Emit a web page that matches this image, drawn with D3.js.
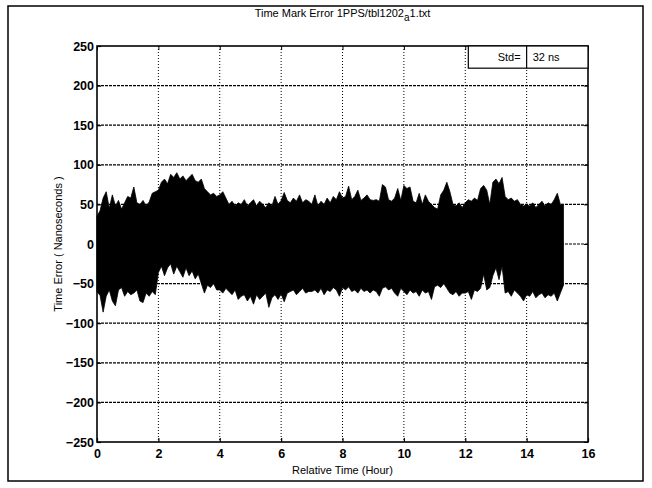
<!DOCTYPE html>
<html>
<head>
<meta charset="utf-8">
<script src="https://cdn.jsdelivr.net/npm/d3@7"></script>
<style>
  body { margin: 0; background: #fff; }
  svg text { font-family: "Liberation Sans", Arial, sans-serif; fill: #000; }
</style>
</head>
<body>
<div id="vis"></div>
<script>
const w = 652;
const h = 488;

// sample spacing of the envelope (hours)
const step = 0.1;

// upper envelope of the error trace, one value per 0.1 hour (ns)
const topEnv = [
    35, 42, 58, 66, 45, 62, 48, 55, 44, 52,
    60, 58, 72, 52, 50, 55, 48, 53, 64, 66,
    68, 78, 82, 76, 88, 84, 90, 82, 86, 80,
    84, 88, 80, 78, 82, 70, 66, 62, 64, 60,
    62, 66, 58, 50, 54, 48, 52, 50, 56, 48,
    52, 56, 48, 54, 50, 46, 52, 48, 60, 50,
    55, 65, 55, 52, 58, 54, 62, 52, 56, 54,
    50, 62, 48, 54, 50, 58, 52, 60, 56, 66,
    58, 60, 73, 56, 60, 68, 55, 58, 62, 56,
    55, 56, 54, 75, 72, 56, 54, 58, 70, 55,
    74, 70, 72, 54, 52, 64, 50, 62, 54, 50,
    46, 44, 62, 68, 78, 66, 50, 48, 52, 46,
    52, 56, 54, 58, 55, 70, 74, 68, 50, 78,
    82, 76, 84, 60, 56, 58, 54, 56, 50, 48,
    50, 48, 52, 46, 50, 54, 48, 52, 50, 56,
    64, 50, 50
];

// lower envelope, same sampling (ns)
const botEnv = [
    -60, -65, -86, -66, -58, -72, -78, -58, -55, -66,
    -60, -64, -62, -58, -72, -74, -62, -66, -60, -64,
    -36, -28, -40, -30, -25, -38, -28, -35, -42, -30,
    -40, -34, -44, -38, -50, -62, -52, -55, -50, -58,
    -58, -62, -56, -60, -64, -58, -70, -66, -64, -72,
    -66, -76, -64, -70, -66, -62, -80, -68, -64, -70,
    -63, -73, -62, -60, -58, -64, -60, -56, -62, -60,
    -60, -58, -62, -56, -64, -58, -60, -55, -58, -66,
    -55, -58, -54, -60, -58, -62, -56, -60, -58, -62,
    -58, -60, -66, -56, -54, -58, -56, -62, -66, -56,
    -60, -64, -58, -62, -60, -66, -58, -62, -60, -70,
    -54, -52, -55, -50, -56, -62, -64, -60, -66, -62,
    -62, -60, -70, -58, -60, -56, -38, -58, -55, -40,
    -30, -45, -28, -62, -60, -66, -58, -62, -66, -72,
    -64, -66, -60, -68, -64, -62, -68, -64, -66, -62,
    -72, -62, -52
];

const xTicks = [0, 2, 4, 6, 8, 10, 12, 14, 16];
const yTicks = [-250, -200, -150, -100, -50, 0, 50, 100, 150, 200, 250];
const stdLabel = 'Std=';
const stdValue = '32 ns';

const margin = ({ top: 46, right: 64, bottom: 46, left: 97 });

const svg = d3.select('#vis')
    .append('svg')
    .attr('width', w)
    .attr('height', h)

let xScale = d3.scaleLinear()
    .domain([0, 16])
    .range([margin.left, w - margin.right]);

let yScale = d3.scaleLinear()
    .domain([-250, 250])
    .range([h - margin.bottom, margin.top]);

// outer figure frame
svg.append('rect')
    .attr('x', 8)
    .attr('y', 6)
    .attr('width', 635)
    .attr('height', 475)
    .attr('fill', 'none')
    .attr('stroke', '#000')
    .attr('stroke-width', 1.5)

// grid
svg.append('g')
    .selectAll('line')
    .data(xTicks.slice(1, -1))
    .join('line')
    .attr('x1', d => xScale(d))
    .attr('x2', d => xScale(d))
    .attr('y1', yScale(250))
    .attr('y2', yScale(-250))
    .attr('stroke', '#000')
    .attr('stroke-width', 1)
    .attr('stroke-dasharray', '1,2')

svg.append('g')
    .selectAll('line')
    .data(yTicks.slice(1, -1))
    .join('line')
    .attr('x1', xScale(0))
    .attr('x2', xScale(16))
    .attr('y1', d => yScale(d))
    .attr('y2', d => yScale(d))
    .attr('stroke', '#000')
    .attr('stroke-width', 1.2)
    .attr('stroke-dasharray', '3,1')

// the error trace, drawn as its min / max envelope
const samples = topEnv.map((t, i) => ({ t: i * step, hi: t, lo: botEnv[i] }));

let area = d3.area()
    .x(d => xScale(d.t))
    .y0(d => yScale(d.lo))
    .y1(d => yScale(d.hi))
    .curve(d3.curveLinear);

svg.append('path')
    .datum(samples)
    .attr('d', area)
    .attr('fill', '#000')
    .attr('stroke', '#000')
    .attr('stroke-width', 0.8)

// axes (ticks inside, like the original)
let xAxis = d3.axisBottom(xScale).tickValues(xTicks).tickSize(-4).tickPadding(7);
let yAxis = d3.axisLeft(yScale).tickValues(yTicks).tickSize(-4).tickPadding(3);

svg.append('g')
    .attr('transform', 'translate(0, ' + yScale(-250) + ')')
    .call(xAxis)
    .call(g => g.select('.domain').remove())
    .call(g => g.selectAll('.tick line').attr('stroke-width', 1.2))
    .selectAll('text')
    .attr('font-size', '12.5px')
    .attr('font-weight', 'bold')

svg.append('g')
    .attr('transform', 'translate(' + xScale(0) + ', 0)')
    .call(yAxis)
    .call(g => g.select('.domain').remove())
    .call(g => g.selectAll('.tick line').attr('stroke-width', 1.2))
    .selectAll('text')
    .attr('font-size', '12.5px')
    .attr('font-weight', 'bold')

svg.append('g')
    .attr('transform', 'translate(0, ' + yScale(250) + ')')
    .call(d3.axisTop(xScale).tickValues(xTicks).tickSize(-4).tickFormat(''))
    .call(g => g.select('.domain').remove())

svg.append('g')
    .attr('transform', 'translate(' + xScale(16) + ', 0)')
    .call(d3.axisRight(yScale).tickValues(yTicks).tickSize(-4).tickFormat(''))
    .call(g => g.select('.domain').remove())

// plot box
svg.append('rect')
    .attr('x', xScale(0))
    .attr('y', yScale(250))
    .attr('width', xScale(16) - xScale(0))
    .attr('height', yScale(-250) - yScale(250))
    .attr('fill', 'none')
    .attr('stroke', '#000')
    .attr('stroke-width', 1.6)

// std box
const boxTop = yScale(250);
const boxBottom = yScale(222);
svg.append('rect')
    .attr('x', xScale(12.1))
    .attr('y', boxTop)
    .attr('width', xScale(16) - xScale(12.1))
    .attr('height', boxBottom - boxTop)
    .attr('fill', '#fff')
    .attr('stroke', '#000')
    .attr('stroke-width', 1.2)

svg.append('line')
    .attr('x1', xScale(14))
    .attr('x2', xScale(14))
    .attr('y1', boxTop)
    .attr('y2', boxBottom)
    .attr('stroke', '#000')
    .attr('stroke-width', 1.2)

svg.append('text')
    .attr('x', xScale(14) - 6)
    .attr('y', (boxTop + boxBottom) / 2 + 4)
    .attr('text-anchor', 'end')
    .attr('font-size', '11px')
    .text(stdLabel)

svg.append('text')
    .attr('x', xScale(14) + 6)
    .attr('y', (boxTop + boxBottom) / 2 + 4)
    .attr('font-size', '11px')
    .text(stdValue)

// title with subscript
let title = svg.append('text')
    .attr('x', (xScale(0) + xScale(16)) / 2)
    .attr('y', 17)
    .attr('text-anchor', 'middle')
    .attr('font-size', '11px')
title.append('tspan').text('Time Mark Error 1PPS/tbl1202')
title.append('tspan').attr('dy', 4).attr('font-size', '10px').text('a')
title.append('tspan').attr('dy', -4).text('1.txt')

svg.append('text')
    .attr('x', (xScale(0) + xScale(16)) / 2)
    .attr('y', 474)
    .attr('text-anchor', 'middle')
    .attr('font-size', '11px')
    .text('Relative Time (Hour)')

svg.append('text')
    .attr('transform', 'translate(62, ' + yScale(0) + ') rotate(-90)')
    .attr('text-anchor', 'middle')
    .attr('font-size', '11px')
    .text('Time Error ( Nanoseconds )')
</script>
</body>
</html>
